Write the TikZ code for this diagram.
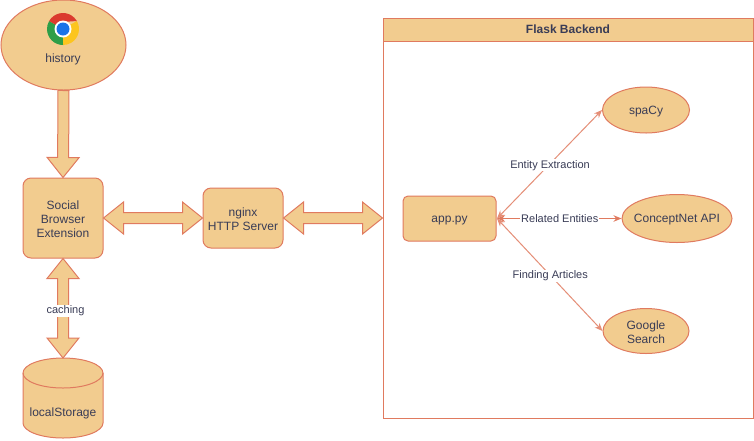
\documentclass[tikz,border=0pt]{standalone}
\usepackage{fontspec}
\setmainfont{Liberation Sans}
\usetikzlibrary{calc,arrows.meta,shapes.geometric}
\definecolor{sand}{HTML}{F2CC8F}
\definecolor{rust}{HTML}{E07A5F}
\definecolor{ink}{HTML}{393C56}
\definecolor{chromered}{HTML}{DB3A2E}
\definecolor{chromeyellow}{HTML}{FCC51F}
\definecolor{chromegreen}{HTML}{2E9E48}
\definecolor{chromeblue}{HTML}{1A73E8}
\tikzset{
  shapebox/.style={draw=rust,fill=sand,text=ink,line width=1pt,inner sep=0pt,align=center,font=\fontsize{12}{14}\selectfont},
  roundbox/.style={shapebox,rounded corners=8pt},
  oval/.style={shapebox,ellipse},
  plainbox/.style={text=ink,inner sep=0pt,align=center,font=\fontsize{12}{14}\selectfont},
  oneline/.style={text height=10.6pt,text depth=2.6pt},
  nudged/.style={plainbox,yshift=-1pt},
  fat/.style={draw=rust,fill=sand,line width=1pt,line join=miter},
  thin/.style={draw=rust,line width=1pt,{Stealth[length=8pt,width=6.5pt]}-{Stealth[length=8pt,width=6.5pt]}},
  lab/.style={fill=white,text=ink,inner sep=1pt,text height=8pt,text depth=2.2pt,yshift=-1pt,xshift=0.5pt,font=\fontsize{11}{13}\selectfont},
}
\newcommand{\fatsingle}[2]{%
  \path[fat] (#1) -- ($(#1)!5.5pt!90:(#2)$) -- ($(#2)!20pt!(#1)!5.5pt!-90:(#1)$)
   -- ($(#2)!20pt!(#1)!16pt!-90:(#1)$) -- (#2) -- ($(#2)!20pt!(#1)!16pt!90:(#1)$)
   -- ($(#2)!20pt!(#1)!5.5pt!90:(#1)$) -- ($(#1)!5.5pt!-90:(#2)$) -- cycle;}
\newcommand{\fatdouble}[2]{%
  \path[fat] (#1) -- ($(#1)!20pt!(#2)!16pt!90:(#2)$) -- ($(#1)!20pt!(#2)!5.5pt!90:(#2)$)
   -- ($(#2)!20pt!(#1)!5.5pt!-90:(#1)$) -- ($(#2)!20pt!(#1)!16pt!-90:(#1)$) -- (#2)
   -- ($(#2)!20pt!(#1)!16pt!90:(#1)$) -- ($(#2)!20pt!(#1)!5.5pt!90:(#1)$)
   -- ($(#1)!20pt!(#2)!5.5pt!-90:(#2)$) -- ($(#1)!20pt!(#2)!16pt!-90:(#2)$) -- cycle;}
\begin{document}
\begin{tikzpicture}[x=1pt,y=-1pt]
\useasboundingbox (0,0) rectangle (754,440);
% history
\node[oval,minimum width=125pt,minimum height=90pt] (history) at (63.5,45) {};
\node[plainbox,oneline] (historytext) at (63,58.5) {history};
\begin{scope}[shift={(63,29)},x=1pt,y=1pt]
  \fill[chromeyellow] (0,0) -- (30:16) arc (30:-90:16) -- cycle;
  \fill[chromegreen] (0,0) -- (-90:16) arc (-90:-210:16) -- cycle;
  \fill[chromered] (0,0) -- (150:16) arc (150:30:16) -- (90:7) -- cycle;
  \fill[chromeyellow] (-30:7) -- (-90:16) -- (0,-16) -- (0,0) -- cycle;
  \fill[white] (0,0) circle (8.5);
  \fill[chromeblue] (0,0) circle (6.5);
\end{scope}
% boxes
\node[roundbox,minimum width=80pt,minimum height=80pt,label={[nudged]center:Social\\Browser\\Extension}] (social) at (63,218) {};
\node[roundbox,minimum width=80pt,minimum height=60pt,label={[nudged]center:nginx\\HTTP Server}] (nginx) at (243,218) {};
% cylinder
\draw[fat] (23,373) -- (23,423) .. controls (23,431.3) and (40.9,438) .. (63,438)
  .. controls (85.1,438) and (103,431.3) .. (103,423) -- (103,373)
  .. controls (103,364.7) and (85.1,358) .. (63,358)
  .. controls (40.9,358) and (23,364.7) .. (23,373) -- cycle;
\draw[draw=rust,line width=1pt] (23,373) .. controls (23,381.3) and (40.9,388) .. (63,388)
  .. controls (85.1,388) and (103,381.3) .. (103,373);
\coordinate (storetop) at (63,358);
\node[plainbox,oneline] (store) at (63,412.5) {localStorage};
% flask container
\node[draw=rust,line width=1pt,fill=white,minimum width=370pt,minimum height=400pt,inner sep=0pt] (flask) at (568,218) {};
\node[draw=rust,fill=sand,line width=1pt,minimum width=370pt,minimum height=23pt,inner sep=0pt,text=ink,oneline,font=\fontsize{12}{14}\selectfont\bfseries] (flaskhead) at (568,29.5) {Flask Backend};
% fat connectors
\fatsingle{history.south}{social.north}
\fatdouble{social.east}{nginx.west}
\fatdouble{nginx.east}{flask.west}
\fatdouble{social.south}{storetop}
\node[lab] (cachinglab) at (65,310) {caching};
% backend
\node[roundbox,rounded corners=5pt,minimum width=93pt,minimum height=45pt,oneline] (app) at (449.5,218.5) {app.py};
\node[oval,minimum width=87pt,minimum height=46pt,label={[plainbox,oneline]center:spaCy}] (spacy) at (646,110) {};
\node[oval,minimum width=110pt,minimum height=48pt,label={[plainbox,oneline]center:ConceptNet API}] (concept) at (677,218.5) {};
\node[oval,minimum width=86pt,minimum height=45pt,label={[nudged]center:Google\\Search}] (google) at (646,331) {};
\coordinate (appport) at (497,218.5);
\draw[thin,rust!85] (appport) -- (spacy.west) node[pos=0.5,lab] (l1) {Entity Extraction};
\draw[thin] (appport) -- (concept.west) node[pos=0.5,lab] (l2) {Related Entities};
\draw[thin,rust!85] (appport) -- (google.west) node[pos=0.5,lab] (l3) {Finding Articles};
\end{tikzpicture}
\end{document}
